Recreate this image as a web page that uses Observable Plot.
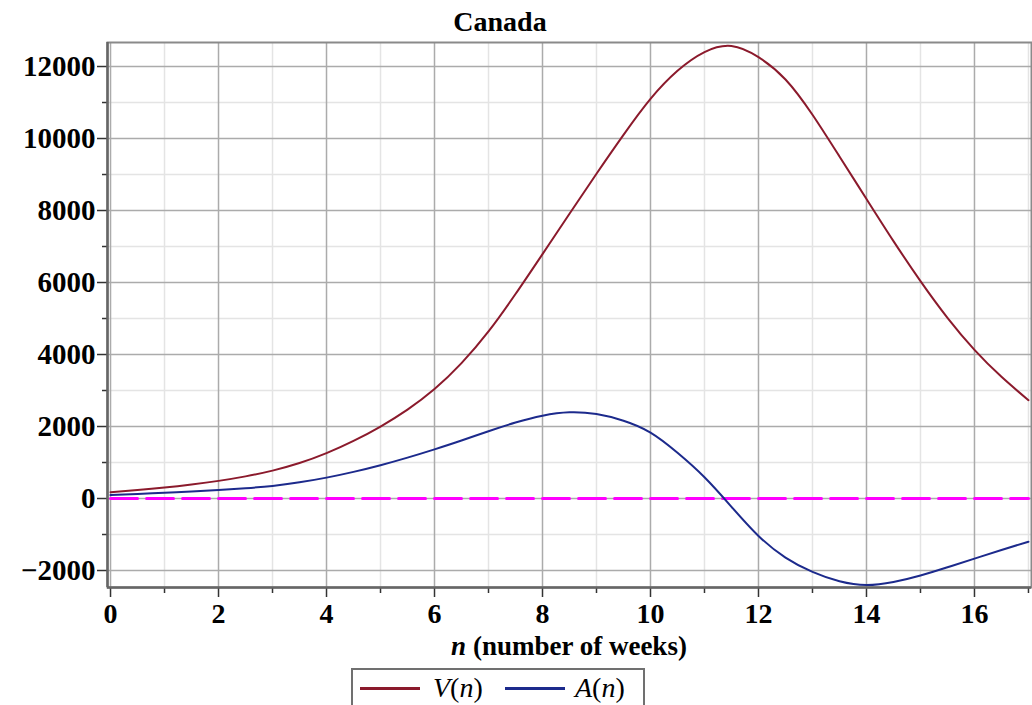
<!DOCTYPE html>
<html><head><meta charset="utf-8">
<script src="https://cdn.jsdelivr.net/npm/d3@7"></script>
<script src="https://cdn.jsdelivr.net/npm/@observablehq/plot@0.6"></script>
<style>
body{margin:0;background:#fff;width:1032px;height:705px;overflow:hidden;position:relative;font-family:"Liberation Serif",serif;}
#chart{position:absolute;left:0;top:0;}
.title{position:absolute;left:400px;width:200px;text-align:center;top:5px;font-size:28px;font-weight:bold;line-height:34px;color:#000;}
.xlabel{position:absolute;left:369px;width:400px;text-align:center;top:631px;font-size:27px;font-weight:bold;line-height:30px;color:#000;}
.legend{position:absolute;left:351px;top:668px;width:294px;height:50px;border:2px solid #707070;box-sizing:border-box;background:#fff;}
.legend .ln{position:absolute;height:3px;top:17px;}
.legend .lt{position:absolute;top:2px;font-size:28px;line-height:32px;color:#000;}
</style></head>
<body>
<div id="chart"></div>
<div class="title">Canada</div>
<div class="xlabel"><i>n</i> (number of weeks)</div>
<div class="legend">
  <div class="ln" style="left:7px;width:60px;background:#8b1a2c"></div>
  <div class="lt" style="left:80px"><i>V</i>(<i>n</i>)</div>
  <div class="ln" style="left:152px;width:60px;background:#1c2a8c"></div>
  <div class="lt" style="left:222px"><i>A</i>(<i>n</i>)</div>
</div>
<script>
const weeks   = [0,0.5,1,1.5,2,2.5,3,3.5,4,4.5,5,5.5,6,6.5,7,7.5,8,8.5,9,9.5,10,10.5,11,11.5,12,12.5,13,13.5,14,14.5,15,15.5,16,16.5,17];
const vValues = [175,235,305,390,490,615,775,985,1260,1600,2000,2470,3040,3760,4640,5680,6790,7910,9020,10100,11100,11880,12400,12570,12260,11640,10660,9500,8320,7150,6040,5020,4130,3380,2730];
const aValues = [95,125,160,195,235,285,350,450,580,740,925,1135,1365,1610,1870,2110,2300,2395,2345,2160,1830,1270,590,-230,-1040,-1640,-2040,-2300,-2405,-2320,-2140,-1910,-1670,-1430,-1200];
const xMajorTicks = [0,2,4,6,8,10,12,14,16];
const xMinorTicks = [1,3,5,7,9,11,13,15,17];
const yMajorTicks = [-2000,0,2000,4000,6000,8000,10000,12000];
const yMinorTicks = [-1000,1000,3000,5000,7000,9000,11000];
const zeroLine = [{n:0,v:0},{n:17,v:0}];

const rows = weeks.map((n,i)=>({n, v:vValues[i], a:aValues[i]}));
const fmt = d => d < 0 ? "\u2212" + Math.abs(d) : String(d);

const chart = Plot.plot({
  width: 1032, height: 705,
  marginLeft: 107, marginRight: 1, marginTop: 42, marginBottom: 118,
  style: {fontFamily: "'Liberation Serif', serif", fontWeight: "bold", background: "#fff", color: "#000"},
  x: {domain: [-0.056, 17.056]},
  y: {domain: [-2472, 12667]},
  marks: [
    Plot.gridX(xMinorTicks, {stroke: "#e4e4e4", strokeOpacity: 1, strokeWidth: 1.5}),
    Plot.gridY(yMinorTicks, {stroke: "#e4e4e4", strokeOpacity: 1, strokeWidth: 1.5}),
    Plot.gridX(xMajorTicks, {stroke: "#ababab", strokeOpacity: 1, strokeWidth: 1.5}),
    Plot.gridY(yMajorTicks, {stroke: "#ababab", strokeOpacity: 1, strokeWidth: 1.5}),
    Plot.line(zeroLine, {x: "n", y: "v", stroke: "#ff00ff", strokeWidth: 3, strokeDasharray: "27,9"}),
    Plot.line(rows, {x: "n", y: "v", stroke: "#8b1a2c", strokeWidth: 2, curve: "natural"}),
    Plot.line(rows, {x: "n", y: "a", stroke: "#1c2a8c", strokeWidth: 2, curve: "natural"}),
    Plot.frame({stroke: "#8a8a8a", strokeWidth: 2}),
    Plot.axisY(yMajorTicks, {tickSize: 10, tickPadding: 2, fontSize: 29, tickFormat: fmt, label: null, stroke: "#333", strokeWidth: 1.5, style: {letterSpacing: "1.5px"}}),
    Plot.axisY(yMinorTicks, {tickSize: 5, text: null, label: null, stroke: "#333", strokeWidth: 1.5}),
    Plot.axisX(xMajorTicks, {tickSize: 10, tickPadding: 6, fontSize: 28, tickFormat: d => String(d), label: null, stroke: "#333", strokeWidth: 1.5}),
    Plot.axisX(xMinorTicks, {tickSize: 6, text: null, label: null, stroke: "#333", strokeWidth: 1.5}),
    Plot.ruleX([-0.056], {stroke: "#666", strokeWidth: 2.5}),
    Plot.ruleY([-2472], {stroke: "#666", strokeWidth: 2.5})
  ]
});
document.getElementById("chart").appendChild(chart);
</script>
</body></html>
